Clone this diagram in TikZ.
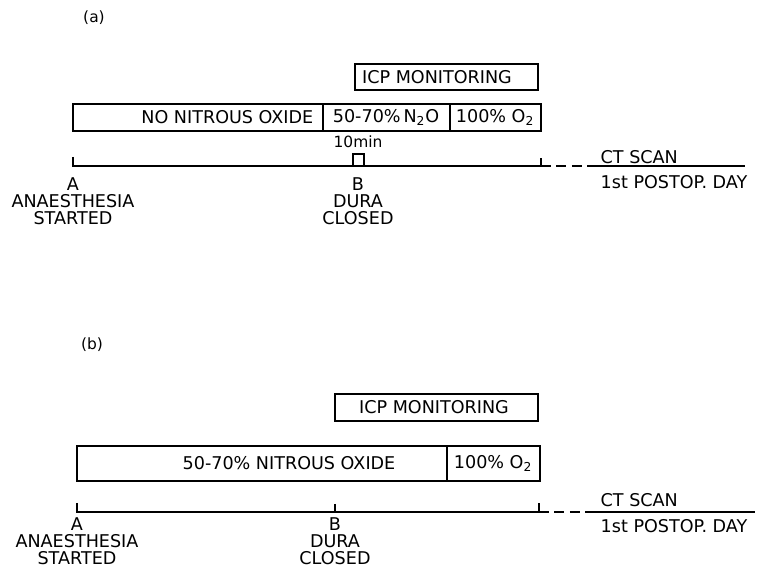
\documentclass[tikz,border=0pt]{standalone}
\usepackage{fontspec}
\setmainfont{DejaVu Sans}
\usetikzlibrary{positioning}

\begin{document}
\begin{tikzpicture}[x=0.025cm,y=-0.025cm,line width=1pt,
  every node/.style={font=\fontsize{12.5}{13}\selectfont,inner sep=0pt},
  small/.style={font=\fontsize{11}{12}\selectfont},
  gap/.style={dash pattern=on 7pt off 4pt}]
  \useasboundingbox (0,0) rectangle (764,569);
  % ---------- (a) ----------
  \node[small] (tagA) at (94,18) {(a)};
  \draw (355,64) rectangle (538,90); \node (icpA) at (437,77) {ICP MONITORING};
  \draw (73,104) rectangle (541,131); \draw (323,104)--(323,131); \draw (450,104)--(450,131);
  \node[anchor=east] (noA) at (314,117.5) {NO NITROUS OXIDE};
  \node (nitA) at (386,117.5) {50-70\%\,N\textsubscript{2}O};
  \node (oxA) at (495,117.5) {100\% O\textsubscript{2}};
  \node[small] (minA) at (358,142) {10min};
  \coordinate (startA) at (73,166); \coordinate (endA) at (541,166);
  \draw (73,157)--(startA)--(endA)--(541,158);
  \draw (353,166)--(353,154)--(364,154)--(364,166);
  \coordinate (ctA) at (592,166);
  \draw[gap] (endA)--(ctA); \draw (ctA)--(745,166);
  \node[anchor=west] (scanA) at (600,157) {CT SCAN};
  \node[anchor=west] (dayA) at (600,182) {1st POSTOP. DAY};
  \node (ptA) at (73,184) {A};
  \node (anA) at (73,201) {ANAESTHESIA};
  \node (stA) at (73,218) {STARTED};
  \node (ptB) at (358,184) {B};
  \node (duA) at (358,201) {DURA};
  \node (clA) at (358,218) {CLOSED};
  % ---------- (b) ----------
  \node[small] (tagB) at (92,345) {(b)};
  \draw (335,394) rectangle (538,421); \node (icpB) at (434,407.5) {ICP MONITORING};
  \draw (77,446) rectangle (540,481); \draw (447,446)--(447,481);
  \node (nitB) at (289,463.5) {50-70\% NITROUS OXIDE};
  \node (oxB) at (493,463.5) {100\% O\textsubscript{2}};
  \coordinate (startB) at (77,512); \coordinate (endB) at (539,512);
  \draw (77,503)--(startB)--(endB)--(539,503);
  \draw (335,504)--(335,512);
  \coordinate (ctB) at (592,512);
  \draw[gap] (endB)--(ctB); \draw (ctB)--(755,512);
  \node[anchor=west] (scanB) at (600,500) {CT SCAN};
  \node[anchor=west] (dayB) at (600,526) {1st POSTOP. DAY};
  \node (ptC) at (77,524) {A};
  \node (anB) at (77,541) {ANAESTHESIA};
  \node (stB) at (77,558) {STARTED};
  \node (ptD) at (335,524) {B};
  \node (duB) at (335,541) {DURA};
  \node (clB) at (335,558) {CLOSED};
\end{tikzpicture}
\end{document}
